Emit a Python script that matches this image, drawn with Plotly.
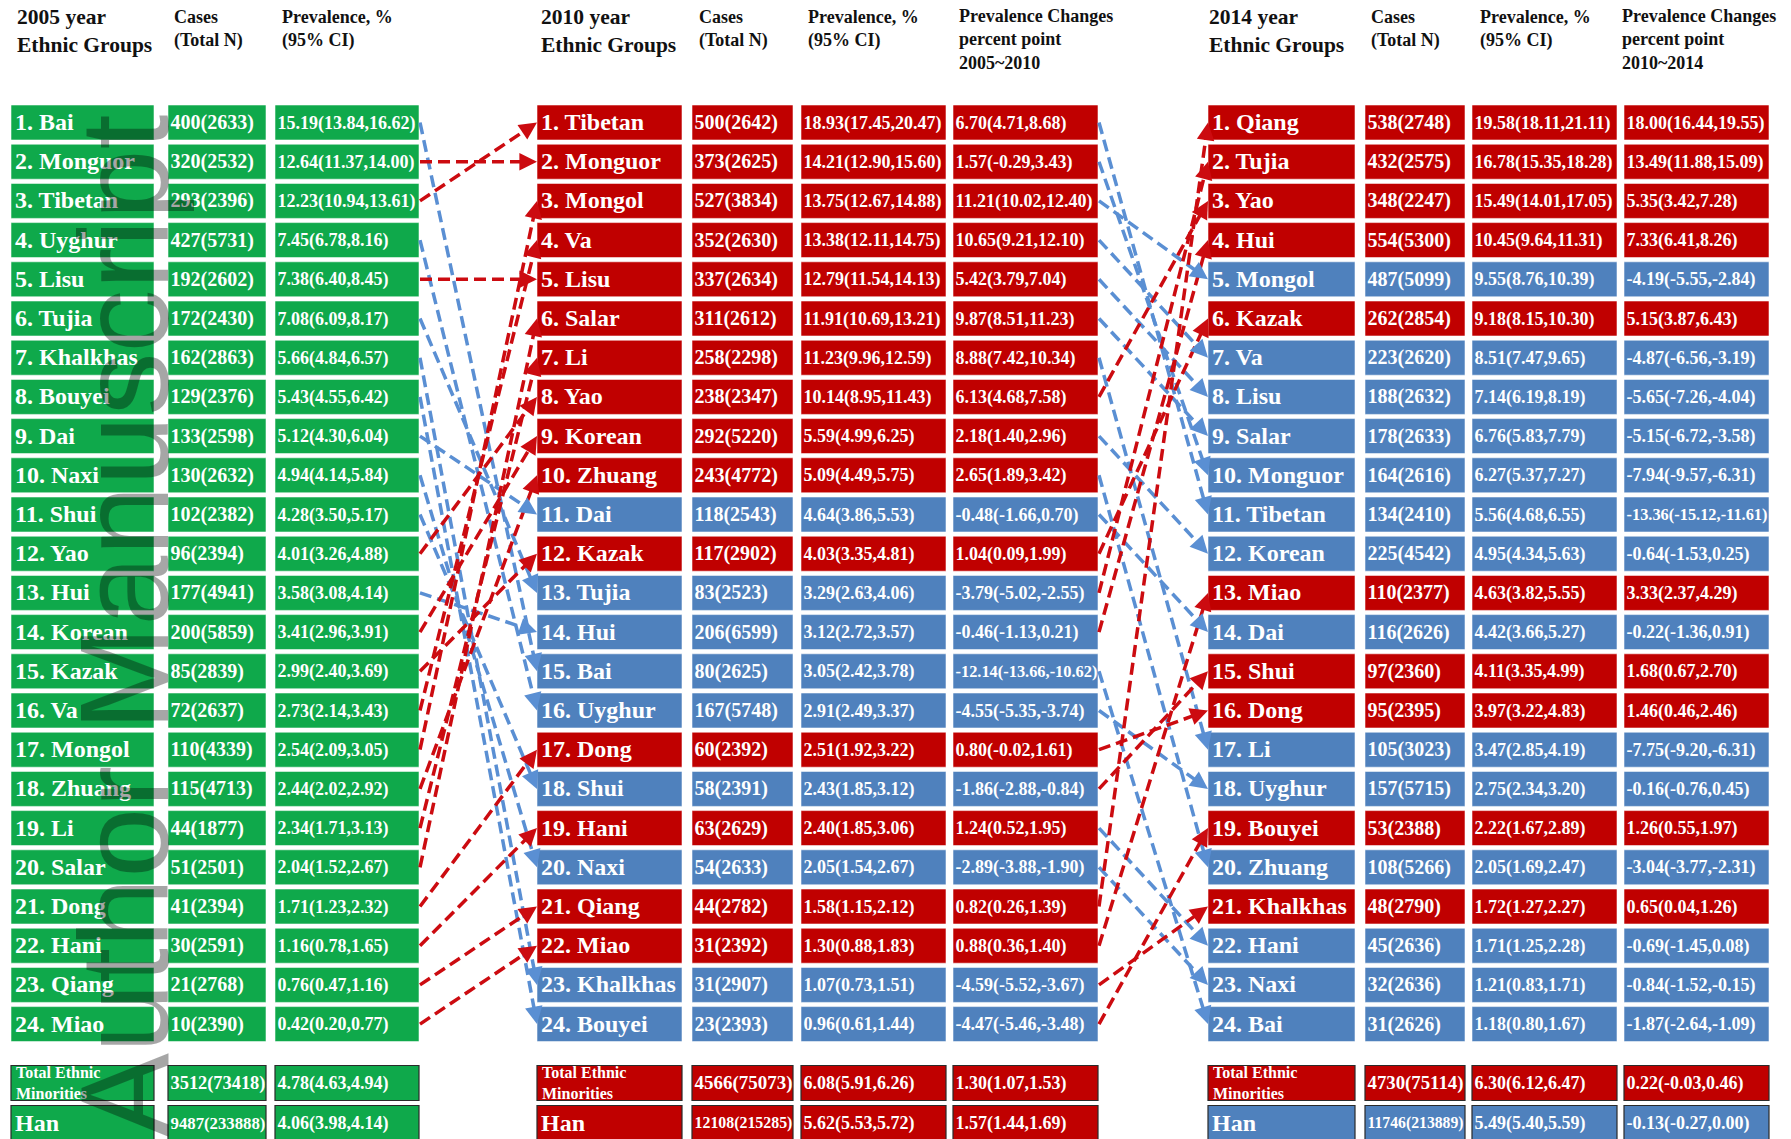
import math
import plotly.graph_objects as go

# ---------------- data ----------------
groups_2005 = ["Bai", "Monguor", "Tibetan", "Uyghur", "Lisu", "Tujia", "Khalkhas", "Bouyei",
               "Dai", "Naxi", "Shui", "Yao", "Hui", "Korean", "Kazak", "Va", "Mongol", "Zhuang",
               "Li", "Salar", "Dong", "Hani", "Qiang", "Miao"]
cases_2005 = ["400(2633)", "320(2532)", "293(2396)", "427(5731)", "192(2602)", "172(2430)",
              "162(2863)", "129(2376)", "133(2598)", "130(2632)", "102(2382)", "96(2394)",
              "177(4941)", "200(5859)", "85(2839)", "72(2637)", "110(4339)", "115(4713)",
              "44(1877)", "51(2501)", "41(2394)", "30(2591)", "21(2768)", "10(2390)"]
prev_2005 = ["15.19(13.84,16.62)", "12.64(11.37,14.00)", "12.23(10.94,13.61)", "7.45(6.78,8.16)",
             "7.38(6.40,8.45)", "7.08(6.09,8.17)", "5.66(4.84,6.57)", "5.43(4.55,6.42)",
             "5.12(4.30,6.04)", "4.94(4.14,5.84)", "4.28(3.50,5.17)", "4.01(3.26,4.88)",
             "3.58(3.08,4.14)", "3.41(2.96,3.91)", "2.99(2.40,3.69)", "2.73(2.14,3.43)",
             "2.54(2.09,3.05)", "2.44(2.02,2.92)", "2.34(1.71,3.13)", "2.04(1.52,2.67)",
             "1.71(1.23,2.32)", "1.16(0.78,1.65)", "0.76(0.47,1.16)", "0.42(0.20,0.77)"]

groups_2010 = ["Tibetan", "Monguor", "Mongol", "Va", "Lisu", "Salar", "Li", "Yao", "Korean",
               "Zhuang", "Dai", "Kazak", "Tujia", "Hui", "Bai", "Uyghur", "Dong", "Shui", "Hani",
               "Naxi", "Qiang", "Miao", "Khalkhas", "Bouyei"]
cases_2010 = ["500(2642)", "373(2625)", "527(3834)", "352(2630)", "337(2634)", "311(2612)",
              "258(2298)", "238(2347)", "292(5220)", "243(4772)", "118(2543)", "117(2902)",
              "83(2523)", "206(6599)", "80(2625)", "167(5748)", "60(2392)", "58(2391)",
              "63(2629)", "54(2633)", "44(2782)", "31(2392)", "31(2907)", "23(2393)"]
prev_2010 = ["18.93(17.45,20.47)", "14.21(12.90,15.60)", "13.75(12.67,14.88)", "13.38(12.11,14.75)",
             "12.79(11.54,14.13)", "11.91(10.69,13.21)", "11.23(9.96,12.59)", "10.14(8.95,11.43)",
             "5.59(4.99,6.25)", "5.09(4.49,5.75)", "4.64(3.86,5.53)", "4.03(3.35,4.81)",
             "3.29(2.63,4.06)", "3.12(2.72,3.57)", "3.05(2.42,3.78)", "2.91(2.49,3.37)",
             "2.51(1.92,3.22)", "2.43(1.85,3.12)", "2.40(1.85,3.06)", "2.05(1.54,2.67)",
             "1.58(1.15,2.12)", "1.30(0.88,1.83)", "1.07(0.73,1.51)", "0.96(0.61,1.44)"]
change_2010 = ["6.70(4.71,8.68)", "1.57(-0.29,3.43)", "11.21(10.02,12.40)", "10.65(9.21,12.10)",
               "5.42(3.79,7.04)", "9.87(8.51,11.23)", "8.88(7.42,10.34)", "6.13(4.68,7.58)",
               "2.18(1.40,2.96)", "2.65(1.89,3.42)", "-0.48(-1.66,0.70)", "1.04(0.09,1.99)",
               "-3.79(-5.02,-2.55)", "-0.46(-1.13,0.21)", "-12.14(-13.66,-10.62)",
               "-4.55(-5.35,-3.74)", "0.80(-0.02,1.61)", "-1.86(-2.88,-0.84)", "1.24(0.52,1.95)",
               "-2.89(-3.88,-1.90)", "0.82(0.26,1.39)", "0.88(0.36,1.40)", "-4.59(-5.52,-3.67)",
               "-4.47(-5.46,-3.48)"]

groups_2014 = ["Qiang", "Tujia", "Yao", "Hui", "Mongol", "Kazak", "Va", "Lisu", "Salar",
               "Monguor", "Tibetan", "Korean", "Miao", "Dai", "Shui", "Dong", "Li", "Uyghur",
               "Bouyei", "Zhuang", "Khalkhas", "Hani", "Naxi", "Bai"]
cases_2014 = ["538(2748)", "432(2575)", "348(2247)", "554(5300)", "487(5099)", "262(2854)",
              "223(2620)", "188(2632)", "178(2633)", "164(2616)", "134(2410)", "225(4542)",
              "110(2377)", "116(2626)", "97(2360)", "95(2395)", "105(3023)", "157(5715)",
              "53(2388)", "108(5266)", "48(2790)", "45(2636)", "32(2636)", "31(2626)"]
prev_2014 = ["19.58(18.11,21.11)", "16.78(15.35,18.28)", "15.49(14.01,17.05)", "10.45(9.64,11.31)",
             "9.55(8.76,10.39)", "9.18(8.15,10.30)", "8.51(7.47,9.65)", "7.14(6.19,8.19)",
             "6.76(5.83,7.79)", "6.27(5.37,7.27)", "5.56(4.68,6.55)", "4.95(4.34,5.63)",
             "4.63(3.82,5.55)", "4.42(3.66,5.27)", "4.11(3.35,4.99)", "3.97(3.22,4.83)",
             "3.47(2.85,4.19)", "2.75(2.34,3.20)", "2.22(1.67,2.89)", "2.05(1.69,2.47)",
             "1.72(1.27,2.27)", "1.71(1.25,2.28)", "1.21(0.83,1.71)", "1.18(0.80,1.67)"]
change_2014 = ["18.00(16.44,19.55)", "13.49(11.88,15.09)", "5.35(3.42,7.28)", "7.33(6.41,8.26)",
               "-4.19(-5.55,-2.84)", "5.15(3.87,6.43)", "-4.87(-6.56,-3.19)", "-5.65(-7.26,-4.04)",
               "-5.15(-6.72,-3.58)", "-7.94(-9.57,-6.31)", "-13.36(-15.12,-11.61)",
               "-0.64(-1.53,0.25)", "3.33(2.37,4.29)", "-0.22(-1.36,0.91)", "1.68(0.67,2.70)",
               "1.46(0.46,2.46)", "-7.75(-9.20,-6.31)", "-0.16(-0.76,0.45)", "1.26(0.55,1.97)",
               "-3.04(-3.77,-2.31)", "0.65(0.04,1.26)", "-0.69(-1.45,0.08)", "-0.84(-1.52,-0.15)",
               "-1.87(-2.64,-1.09)"]

summary_labels = ["Total Ethnic<br>Minorities", "Han"]
summary_2005 = [["3512(73418)", "4.78(4.63,4.94)"],
                ["9487(233888)", "4.06(3.98,4.14)"]]
summary_2010 = [["4566(75073)", "6.08(5.91,6.26)", "1.30(1.07,1.53)"],
                ["12108(215285)", "5.62(5.53,5.72)", "1.57(1.44,1.69)"]]
summary_2014 = [["4730(75114)", "6.30(6.12,6.47)", "0.22(-0.03,0.46)"],
                ["11746(213889)", "5.49(5.40,5.59)", "-0.13(-0.27,0.00)"]]

headers_2005 = ["2005 year<br>Ethnic Groups", "Cases<br>(Total N)", "Prevalence, %<br>(95% CI)"]
headers_2010 = ["2010 year<br>Ethnic Groups", "Cases<br>(Total N)", "Prevalence, %<br>(95% CI)",
                "Prevalence Changes<br>percent point<br>2005~2010"]
headers_2014 = ["2014 year<br>Ethnic Groups", "Cases<br>(Total N)", "Prevalence, %<br>(95% CI)",
                "Prevalence Changes<br>percent point<br>2010~2014"]

# ---------------- layout / style ----------------
W, H = 1791, 1139
ROW1_Y, PITCH, BOX_H = 122.5, 39.2, 35.0
SUMMARY_Y = [1083.0, 1123.0]
HEADER_Y = 31.0
TEXT_DY = 1.5

COLS_2005 = [(11, 154), (168, 266), (275, 419)]
COLS_2010 = [(537, 682), (692, 793), (801, 946), (953, 1098)]
COLS_2014 = [(1208, 1355), (1365, 1465), (1472, 1617), (1624, 1769)]
HEAD_X_2005 = [15, 172, 280]
HEAD_X_2010 = [539, 697, 806, 957]
HEAD_X_2014 = [1207, 1369, 1478, 1620]

RED, BLUE, GREEN = "#c00000", "#4f81bd", "#0fa94b"
LINK_RED, LINK_BLUE = "#cc0b10", "#5a8fd3"
SERIF = "Liberation Serif"

GLYPH_EM = {".": 0.25, ",": 0.25, "(": 0.333, ")": 0.333, "-": 0.333}


def text_em(s):
    return sum(GLYPH_EM.get(ch, 0.5) for ch in s)


def fit_size(s, base, box):
    return min(base, (box[1] - box[0] - 3) / text_em(s))


def row_y(i):
    return ROW1_Y + i * PITCH


def sign_colour(s):
    return RED if float(s.split("(")[0]) > 0 else BLUE


fig = go.Figure()
shapes = []
tx, ty, tt, ts = [], [], [], []


def cell(box, y, colour, text, size, outline=None, pad=2.5):
    shapes.append(dict(type="rect", xref="x", yref="y", layer="below",
                       x0=box[0], x1=box[1], y0=y - BOX_H / 2, y1=y + BOX_H / 2,
                       fillcolor=colour,
                       line=dict(color=outline or "rgba(255,255,255,0.55)",
                                 width=1.2 if outline else 1)))
    if text is not None:
        tx.append(box[0] + pad)
        ty.append(y + TEXT_DY)
        tt.append(text)
        ts.append(size)


# 2005 panel (all green)
for i, g in enumerate(groups_2005):
    y = row_y(i)
    cell(COLS_2005[0], y, GREEN, f"{i + 1}. {g}", 24, pad=4)
    cell(COLS_2005[1], y, GREEN, cases_2005[i], fit_size(cases_2005[i], 20, COLS_2005[1]))
    cell(COLS_2005[2], y, GREEN, prev_2005[i], fit_size(prev_2005[i], 18, COLS_2005[2]))


def panel(cols, groups, cases, prev, change):
    for i, g in enumerate(groups):
        y = row_y(i)
        c = sign_colour(change[i])
        cell(cols[0], y, c, f"{i + 1}. {g}", 24, pad=4)
        cell(cols[1], y, c, cases[i], fit_size(cases[i], 20, cols[1]))
        cell(cols[2], y, c, prev[i], fit_size(prev[i], 18, cols[2]))
        cell(cols[3], y, c, change[i], fit_size(change[i], 18, cols[3]))


panel(COLS_2010, groups_2010, cases_2010, prev_2010, change_2010)
panel(COLS_2014, groups_2014, cases_2014, prev_2014, change_2014)

# summary rows (total minorities / Han)
small_labels = []
for k, lab in enumerate(summary_labels):
    y = SUMMARY_Y[k]
    for cols, vals in ((COLS_2005, summary_2005[k]), (COLS_2010, summary_2010[k]),
                       (COLS_2014, summary_2014[k])):
        colour = GREEN if cols is COLS_2005 else sign_colour(vals[-1])
        if k == 0:
            cell(cols[0], y, colour, None, None, outline="#2a2a2a")
            small_labels.append((cols[0][0] + 3, y, lab))
        else:
            cell(cols[0], y, colour, lab, 24, outline="#2a2a2a", pad=4)
        for j, v in enumerate(vals):
            cell(cols[j + 1], y, colour, v, fit_size(v, 20 if j == 0 else 18, cols[j + 1]),
                 outline="#2a2a2a")

fig.add_trace(go.Scatter(
    x=tx, y=ty, text=tt, mode="text", textposition="middle right",
    textfont=dict(family=SERIF, size=ts, color="white", weight="bold"),
    hoverinfo="skip", showlegend=False))

for x0, y0, lab in small_labels:
    fig.add_annotation(x=x0, y=y0, xref="x", yref="y", text=lab, showarrow=False,
                       xanchor="left", yanchor="middle", align="left",
                       font=dict(family=SERIF, size=16, color="white", weight="bold"))


# ---------------- rank-change links ----------------
def link(x0, y0, x1, y1, colour):
    dx, dy = x1 - x0, y1 - y0
    L = math.hypot(dx, dy)
    ux, uy = dx / L, dy / L
    head = 13
    fig.add_trace(go.Scatter(
        x=[x0, x1 - ux * head * 0.7], y=[y0, y1 - uy * head * 0.7], mode="lines",
        line=dict(color=colour, width=3.5, dash="12px,6px"),
        hoverinfo="skip", showlegend=False))
    fig.add_annotation(x=x1, y=y1, ax=x1 - ux * head, ay=y1 - uy * head,
                       xref="x", yref="y", axref="x", ayref="y", text="",
                       showarrow=True, arrowhead=2, arrowsize=1.1, arrowwidth=3.2,
                       arrowcolor=colour, standoff=0)


links = []
for j, g in enumerate(groups_2010):
    i = groups_2005.index(g)
    pos = float(change_2010[j].split("(")[0]) > 0
    links.append((pos, COLS_2005[2][1] + 1, row_y(i), COLS_2010[0][0], row_y(j)))
for k, g in enumerate(groups_2014):
    j = groups_2010.index(g)
    pos = float(change_2014[k].split("(")[0]) > 0
    links.append((pos, COLS_2010[3][1] + 1, row_y(j), COLS_2014[0][0], row_y(k)))

for pos, x0, y0, x1, y1 in sorted(links, key=lambda t: t[0]):
    link(x0, y0, x1, y1, LINK_RED if pos else LINK_BLUE)

# ---------------- column headers ----------------
for xs, heads in ((HEAD_X_2005, headers_2005), (HEAD_X_2010, headers_2010),
                  (HEAD_X_2014, headers_2014)):
    for j, h in enumerate(heads):
        fig.add_annotation(x=xs[j], y=HEADER_Y + (8 if j == 3 else (0 if j == 0 else -2)),
                           xref="x", yref="y", text=h, showarrow=False,
                           xanchor="left", yanchor="middle", align="left",
                           font=dict(family=SERIF, size=21.5 if j == 0 else 18,
                                     color="#111111", weight="bold"))

# manuscript watermark
fig.add_annotation(x=124, y=626, xref="x", yref="y", text="Author Manuscript",
                   showarrow=False, textangle=-90, xanchor="center", yanchor="middle",
                   font=dict(family="Liberation Sans", size=126, color="rgba(0,0,0,0.35)"))

fig.update_layout(
    width=W, height=H, margin=dict(l=0, r=0, t=0, b=0),
    paper_bgcolor="white", plot_bgcolor="white", shapes=shapes, showlegend=False,
    xaxis=dict(range=[0, W], visible=False, fixedrange=True),
    yaxis=dict(range=[H, 0], visible=False, fixedrange=True),
)

fig.write_html("out.html")
